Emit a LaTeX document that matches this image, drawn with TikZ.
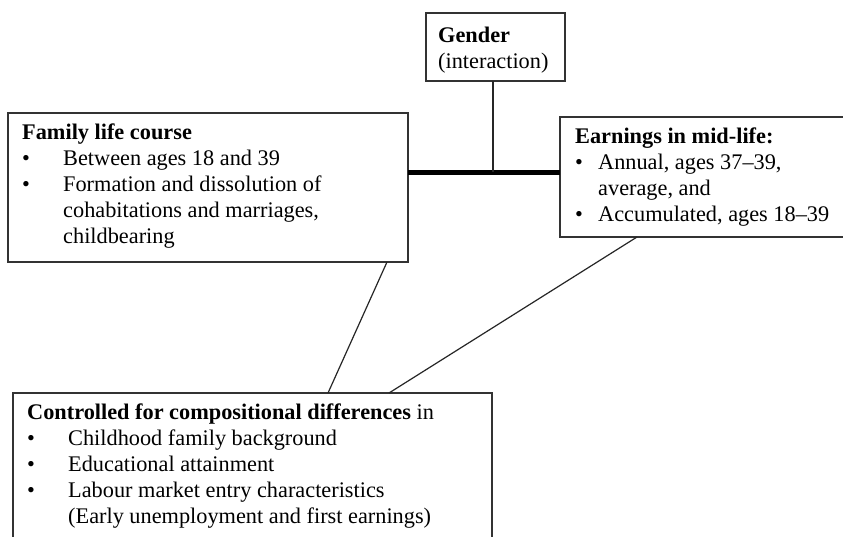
\documentclass[tikz,border=0pt]{standalone}
\usepackage{fontspec}
\setmainfont{Liberation Serif}
\newcommand\mybul[1]{\makebox[#1][l]{\textbullet}}
\begin{document}
\begin{tikzpicture}[x=1pt,y=-1pt,
  box/.style={draw=black!80,line width=1.3pt,anchor=north west,inner sep=0pt,outer sep=0pt},
  txt/.style={anchor=base west,inner sep=0pt,font=\fontsize{22.3}{26}\selectfont},
  link/.style={draw=black!85,line width=1.2pt},
  bar/.style={draw=black,line width=5pt}]
\useasboundingbox (0,0) rectangle (843,536);
\clip (0,0) rectangle (843,536);
\fill[white] (0,0) rectangle (843,536);

% boxes
\node[box,minimum width=139pt,minimum height=68pt] (gender) at (426,13) {};
\node[box,minimum width=400pt,minimum height=149pt] (family) at (8,113) {};
\node[box,minimum width=300pt,minimum height=120pt] (earn) at (560,117) {};
\node[box,minimum width=479pt,minimum height=170pt] (ctrl) at (13,393) {};

% texts
\node[txt] (gendertxt) at (438,42) {\begin{tabular}[t]{@{}l@{}}\textbf{Gender}\\(interaction)\end{tabular}};
\node[txt] (familytxt) at (22,139) {\begin{tabular}[t]{@{}l@{}l@{}}
  \multicolumn{2}{@{}l@{}}{\textbf{Family life course}}\\
  \mybul{41pt}&Between ages 18 and 39\\
  \mybul{41pt}&Formation and dissolution of\\
  &cohabitations and marriages,\\
  &childbearing\end{tabular}};
\node[txt] (earntxt) at (575,143) {\begin{tabular}[t]{@{}l@{}l@{}}
  \multicolumn{2}{@{}l@{}}{\textbf{Earnings in mid-life:}}\\
  \mybul{23pt}&Annual, ages 37–39,\\
  &average, and\\
  \mybul{23pt}&Accumulated, ages 18–39\end{tabular}};
\node[txt] (ctrltxt) at (27,419) {\begin{tabular}[t]{@{}l@{}l@{}}
  \multicolumn{2}{@{}l@{}}{\textbf{Controlled for compositional differences} in}\\
  \mybul{41pt}&Childhood family background\\
  \mybul{41pt}&Educational attainment\\
  \mybul{41pt}&Labour market entry characteristics\\
  &(Early unemployment and first earnings)\end{tabular}};

% connectors
\coordinate (mid) at (493,172);
\draw[bar] (family.east |- mid) -- (earn.west |- mid);
\draw[link] (gender.south -| mid) -- (mid);
\draw[link] ([xshift=379pt]family.south west) -- ([xshift=315pt]ctrl.north west);
\draw[link] ([xshift=376pt]ctrl.north west) -- ([xshift=77pt]earn.south west);
\end{tikzpicture}
\end{document}
